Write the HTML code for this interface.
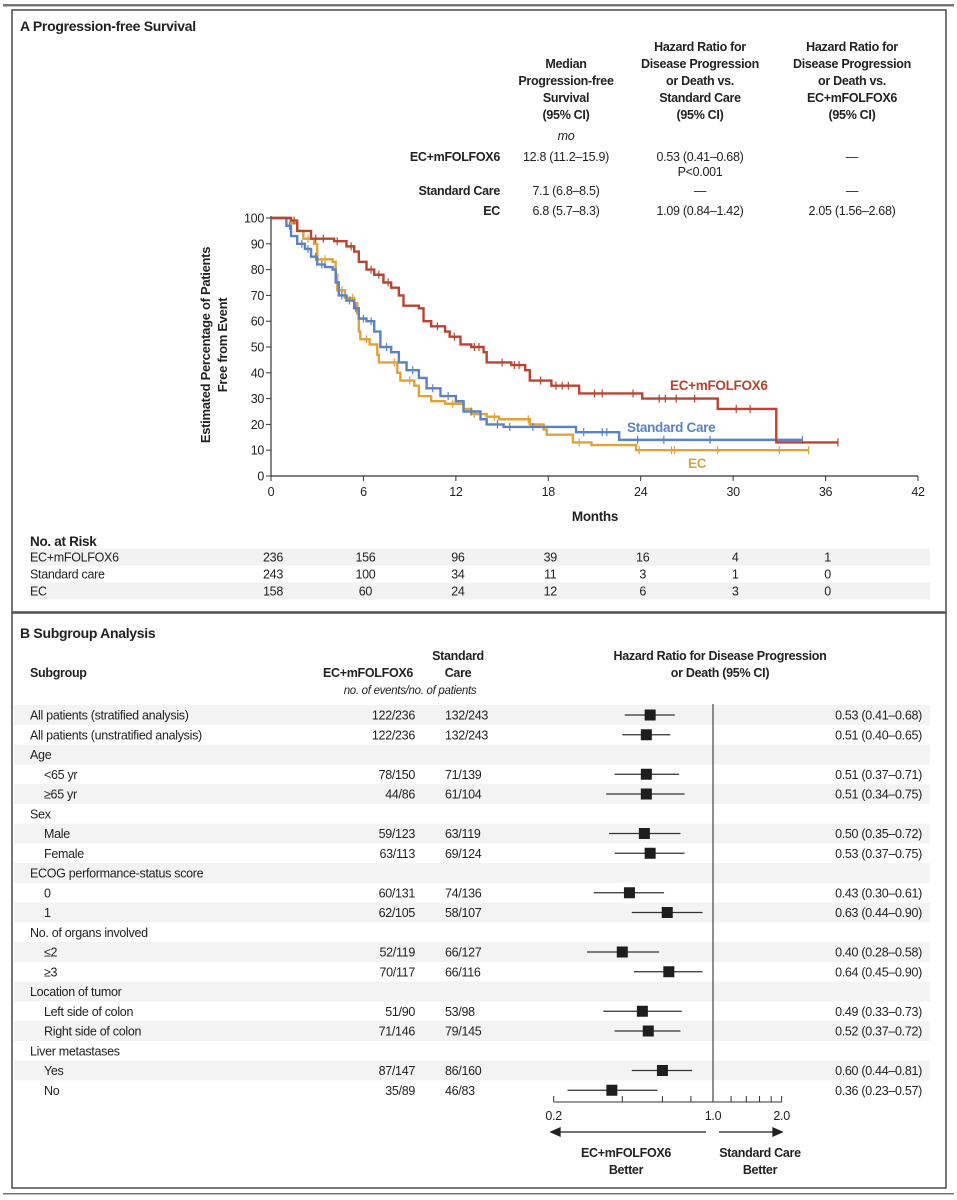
<!DOCTYPE html>
<html><head><meta charset="utf-8">
<style>
html,body{margin:0;padding:0;background:#fff;}
svg{display:block;font-family:"Liberation Sans Narrow","Liberation Sans",sans-serif;letter-spacing:-0.3px;}
text{fill:#222;}
.b{font-weight:bold;}
</style></head>
<body>
<svg id="fig" width="957" height="1200" viewBox="0 0 957 1200" xmlns="http://www.w3.org/2000/svg">
<rect x="3" y="4" width="951" height="2.5" fill="#777"/>
<rect x="12" y="10" width="934" height="602" fill="none" stroke="#555" stroke-width="1.6"/>
<rect x="12" y="613" width="934" height="575" fill="none" stroke="#555" stroke-width="1.6"/>
<rect x="3" y="1193" width="951" height="1.5" fill="#777"/>

<text x="20" y="31" font-size="14" class="b">A  Progression-free Survival</text>
<g font-size="12.5" text-anchor="middle" class="b">
<text x="566" y="68">Median</text><text x="566" y="85">Progression-free</text><text x="566" y="102">Survival</text><text x="566" y="119">(95% CI)</text>
<text x="700" y="51">Hazard Ratio for</text><text x="700" y="68">Disease Progression</text><text x="700" y="85">or Death vs.</text><text x="700" y="102">Standard Care</text><text x="700" y="119">(95% CI)</text>
<text x="852" y="51">Hazard Ratio for</text><text x="852" y="68">Disease Progression</text><text x="852" y="85">or Death vs.</text><text x="852" y="102">EC+mFOLFOX6</text><text x="852" y="119">(95% CI)</text>
</g>
<g font-size="12.5">
<text x="566" y="140" text-anchor="middle" font-style="italic">mo</text>
<text x="500" y="161" text-anchor="end" class="b">EC+mFOLFOX6</text>
<text x="566" y="161" text-anchor="middle">12.8 (11.2–15.9)</text>
<text x="700" y="161" text-anchor="middle">0.53 (0.41–0.68)</text>
<text x="700" y="176" text-anchor="middle">P&lt;0.001</text>
<text x="852" y="161" text-anchor="middle">—</text>
<text x="500" y="195" text-anchor="end" class="b">Standard Care</text>
<text x="566" y="195" text-anchor="middle">7.1 (6.8–8.5)</text>
<text x="700" y="195" text-anchor="middle">—</text>
<text x="852" y="195" text-anchor="middle">—</text>
<text x="500" y="215" text-anchor="end" class="b">EC</text>
<text x="566" y="215" text-anchor="middle">6.8 (5.7–8.3)</text>
<text x="700" y="215" text-anchor="middle">1.09 (0.84–1.42)</text>
<text x="852" y="215" text-anchor="middle">2.05 (1.56–2.68)</text>
</g>
<g id="km"></g>
<g id="risk"></g>

<text x="20" y="638" font-size="14" class="b">B  Subgroup Analysis</text>
<g font-size="12.5" class="b">
<text x="30" y="677">Subgroup</text>
<text x="368" y="677" text-anchor="middle">EC+mFOLFOX6</text>
<text x="458" y="660" text-anchor="middle">Standard</text>
<text x="458" y="677" text-anchor="middle">Care</text>
<text x="720" y="660" text-anchor="middle">Hazard Ratio for Disease Progression</text>
<text x="720" y="677" text-anchor="middle">or Death (95% CI)</text>
</g>
<text x="410" y="694" font-size="11.5" font-style="italic" text-anchor="middle">no. of events/no. of patients</text>
<g id="forest"></g>
</svg>
<script>
// ---------- KM data ----------
const redT=[0,1.3,1.7,2.6,4.1,4.9,5.4,5.7,6.2,6.7,7.3,7.8,8.3,8.6,9.6,9.9,10.4,11.3,11.6,12.3,13,13.8,14,15.6,16.5,16.8,18.2,20,24.1,29,32.8];
const redS=[100,99,95,92,91,89,87,83,80,78,75,73,70,66,65,60,58,56,54,51,50,48,44,43,41,37,35,32,30,26,13];
const redEnd=36.8;
const blueT=[0,1.0,1.3,1.7,2.2,2.6,3,3.5,4,4.2,4.4,4.9,5.4,5.7,6.2,6.7,7.1,7.8,8.3,8.8,9.6,10.1,11,12,12.5,13.6,14,15.1,19.8,22.6];
const blueS=[100,97,93,90,88,85,82,81,80,75,70,68,65,61,60,56,50,48,44,41,38,34,31,29,25,22,20,19,17,14];
const blueEnd=34.5;
const orT=[0,1.3,1.7,2.1,2.8,3,4,4.2,4.3,4.8,5.4,5.6,5.7,5.8,6.4,6.9,7,8.2,8.4,9.3,9.6,10.4,11.3,12.5,13,14,14.8,16.8,17.7,17.9,19.6,20.8,23.7];
const orS=[100,98,95,92,90,84,83,78,72,69,67,63,56,53,51,47,44,40,37,35,31,29,28,26,24,23,22,20,18,16,13,12,10];
const orEnd=34.9;
const redCens=[1.5,2.9,3.4,4.3,5.2,6.5,7.0,7.6,10.8,11.9,13.2,13.5,15.0,15.8,16.1,17.5,18.5,18.9,19.3,21.0,21.5,23.5,25.2,25.6,26.3,27.5,30.2,31.1,36.8];
const blueCens=[1.2,2.0,2.4,2.9,3.3,4.6,5.1,5.5,6.0,6.5,7.5,9.2,10.5,11.5,13.0,14.7,15.5,17.0,20.3,21.5,21.8,23.8,25.5,28.5,34.5];
const orCens=[2.4,3.5,4.6,5.3,6.2,8.0,9.0,11.8,13.2,14.5,16.7,20.0,23.9,26.0,26.2,29.0,33.0,34.9];
const xTicks=[0,6,12,18,24,30,36,42];
const yTicks=[0,10,20,30,40,50,60,70,80,90,100];
const riskLabels=["EC+mFOLFOX6","Standard care","EC"];
const riskRed=[236,156,96,39,16,4,1];
const riskBlue=[243,100,34,11,3,1,0];
const riskOr=[158,60,24,12,6,3,0];

const NS="http://www.w3.org/2000/svg";
function mk(tag,attrs,parent,txt){const e=document.createElementNS(NS,tag);for(const k in attrs)e.setAttribute(k,attrs[k]);if(txt!==undefined)e.textContent=txt;parent.appendChild(e);return e;}
const X=m=>271+m*(647/42);
const Y=p=>476-p*2.58;
const km=document.getElementById('km');

let ax=mk('path',{d:`M${X(0)},${Y(100)-2}V${Y(0)}H${X(42)}`,stroke:'#333','stroke-width':1.2,fill:'none'},km);


xTicks.forEach(t=>{
  const l=mk('line',{x1:X(t),x2:X(t),y1:Y(0),y2:Y(0)+5,stroke:'#333'},km);
  
  
  const tx=mk('text',{x:X(t),y:Y(0)+20,'font-size':12.5,'text-anchor':'middle'},km,t);
  
  
});
yTicks.forEach(t=>{
  const l=mk('line',{x1:X(0)-5,x2:X(0),y1:Y(t),y2:Y(t),stroke:'#333'},km);
  
  
  const tx=mk('text',{x:X(0)-7,y:Y(t)+4.5,'font-size':12.5,'text-anchor':'end'},km,t);
  
  
});
let xt=mk('text',{x:595,y:521,'font-size':13.5,'text-anchor':'middle','font-weight':'bold'},km,'Months');


let yt=mk('text',{transform:'translate(210,345) rotate(-90)','font-size':13,'text-anchor':'middle','font-weight':'bold'},km);


mk('tspan',{x:0,y:0},yt,'Estimated Percentage of Patients');
mk('tspan',{x:0,y:17},yt,'Free from Event');

function stepVal(T,S,m){let v=S[0];for(let i=0;i<T.length;i++){if(T[i]<=m)v=S[i];}return v;}
function drawCurve(T,S,end,cens,col,name){
  let d=`M${X(T[0])},${Y(S[0])}`;
  for(let i=1;i<T.length;i++){d+=`H${X(T[i])}V${Y(S[i])}`;}
  d+=`H${X(end)}`;
  const p=mk('path',{d:d,stroke:col,'stroke-width':2.4,fill:'none'},km);
  
  
  cens.forEach(c=>{
    const v=stepVal(T,S,c);
    const m=mk('line',{x1:X(c),x2:X(c),y1:Y(v)-4,y2:Y(v)+4,stroke:col,'stroke-width':1.2},km);
    
    
  });
}
drawCurve(orT,orS,orEnd,orCens,'#e1a23a','ec');
drawCurve(blueT,blueS,blueEnd,blueCens,'#5b82c4','standard-care');
drawCurve(redT,redS,redEnd,redCens,'#bb4330','ec-mfolfox6');
[['EC+mFOLFOX6',670,390,'#bb4330','ec-mfolfox6-label'],['Standard Care',627,432,'#5b82c4','standard-care-label'],['EC',688,468,'#e1a23a','ec-label']].forEach(a=>{
  const t=mk('text',{x:a[1],y:a[2],'font-size':13.5,'font-weight':'bold',style:'fill:'+a[3]},km,a[0]);
  
  
});

const risk=document.getElementById('risk');
let rh=mk('text',{x:30,y:546,'font-size':13.5,'font-weight':'bold'},risk,'No. at Risk');


[riskRed,riskBlue,riskOr].forEach((row,r)=>{
  const y=557+r*17;
  if(r!==1){const s=mk('rect',{x:30,y:y-8.5,width:900,height:17,fill:'#f2f2f2'},risk);
    
    }
  const l=mk('text',{x:30,y:y+4.5,'font-size':12.5},risk,riskLabels[r]);
  
  
  row.forEach((v,i)=>{
    const t=mk('text',{x:X(i*6)+2,y:y+4.5,'font-size':12.5,'text-anchor':'middle'},risk,v);
    
    
  });
});

// ---------- Forest data ----------
const fLabels=["All patients (stratified analysis)","All patients (unstratified analysis)","Age","<65 yr","≥65 yr","Sex","Male","Female","ECOG performance-status score","0","1","No. of organs involved","≤2","≥3","Location of tumor","Left side of colon","Right side of colon","Liver metastases","Yes","No"];
const fIndent=[0,0,0,1,1,0,1,1,0,1,1,0,1,1,0,1,1,0,1,1];
const fArm1=["122/236","122/236","","78/150","44/86","","59/123","63/113","","60/131","62/105","","52/119","70/117","","51/90","71/146","","87/147","35/89"];
const fArm2=["132/243","132/243","","71/139","61/104","","63/119","69/124","","74/136","58/107","","66/127","66/116","","53/98","79/145","","86/160","46/83"];
const fHR=[0.53,0.51,null,0.51,0.51,null,0.50,0.53,null,0.43,0.63,null,0.40,0.64,null,0.49,0.52,null,0.60,0.36];
const fLo=[0.41,0.40,null,0.37,0.34,null,0.35,0.37,null,0.30,0.44,null,0.28,0.45,null,0.33,0.37,null,0.44,0.23];
const fHi=[0.68,0.65,null,0.71,0.75,null,0.72,0.75,null,0.61,0.90,null,0.58,0.90,null,0.73,0.72,null,0.81,0.57];
const hrTicks=[0.2,0.4,0.6,0.8,1.0,1.2,1.4,1.6,1.8,2.0];
const hrTickLabels=["0.2","1.0","2.0"];

const FX=v=>713+Math.log(v)*99;
const FY=i=>715+i*19.75;
const fg=document.getElementById('forest');
fLabels.forEach((lab,i)=>{
  const y=FY(i);
  if(i%2===0){const s=mk('rect',{x:14,y:y-9.9,width:916,height:19.75,fill:'#f3f3f3'},fg);
    
    }
  const t=mk('text',{x:fIndent[i]?44:30,y:y+4.5,'font-size':12.5},fg,lab);
  
  
  if(fArm1[i]){
    const a=mk('text',{x:415,y:y+4.5,'font-size':12.5,'text-anchor':'end'},fg,fArm1[i]);
    
    
    const b=mk('text',{x:445,y:y+4.5,'font-size':12.5},fg,fArm2[i]);
    
    
  }
});
let ref=mk('line',{x1:FX(1),x2:FX(1),y1:704,y2:1102,stroke:'#333','stroke-width':1.1},fg);


fLabels.forEach((lab,i)=>{
  if(fHR[i]===null)return;
  const y=FY(i);
  const ci=mk('line',{x1:FX(fLo[i]),x2:FX(fHi[i]),y1:y,y2:y,stroke:'#333','stroke-width':1.2},fg);
  
  
  const sq=mk('rect',{x:FX(fHR[i])-5.5,y:y-5.5,width:11,height:11,fill:'#1e1e1e'},fg);
  
  
  const t=mk('text',{x:922,y:y+4.5,'font-size':12.5,'text-anchor':'end'},fg,`${fHR[i].toFixed(2)} (${fLo[i].toFixed(2)}–${fHi[i].toFixed(2)})`);
  
  
});
let fa=mk('line',{x1:FX(0.2),x2:FX(2),y1:1102,y2:1102,stroke:'#333','stroke-width':1.1},fg);


hrTicks.forEach(v=>{
  const l=mk('line',{x1:FX(v),x2:FX(v),y1:1096,y2:1102,stroke:'#333'},fg);
  
  
});
hrTickLabels.forEach(s=>{
  const t=mk('text',{x:FX(parseFloat(s)),y:1120,'font-size':12.5,'text-anchor':'middle'},fg,s);
  
  
});
let la=mk('path',{d:'M706,1132H551M551,1132l9,-4v8z',stroke:'#222','stroke-width':1.3,fill:'#222'},fg);


let ra=mk('path',{d:'M719,1132H782M782,1132l-9,-4v8z',stroke:'#222','stroke-width':1.3,fill:'#222'},fg);


[['EC+mFOLFOX6',626,1157],['Better',626,1174],['Standard Care',760,1157],['Better',760,1174]].forEach(a=>{
  const t=mk('text',{x:a[1],y:a[2],'font-size':12.5,'font-weight':'bold','text-anchor':'middle'},fg,a[0]);
  
  
});
</script>
</body></html>
